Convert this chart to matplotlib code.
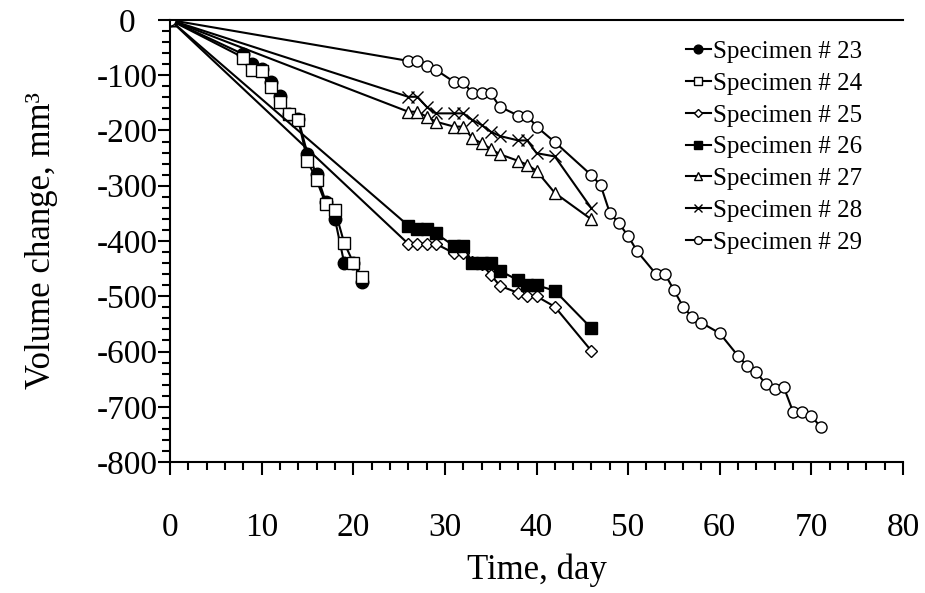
import matplotlib
matplotlib.use("Agg")
import numpy as np
import matplotlib.pyplot as plt
from matplotlib.ticker import MultipleLocator

plt.rcParams['font.family'] = ['Liberation Serif', 'DejaVu Serif']
plt.rcParams['axes.unicode_minus'] = False

# Specimen data (time in days, volume change in mm3)
days_23 = [0, 8, 9, 10, 11, 12, 13, 14, 15, 16, 17, 18, 19, 20, 21]
vol_23 = [0, -62, -80, -89, -113, -137, -170, -180, -242, -279, -329, -360, -439, -439, -474]

days_24 = [0, 8, 9, 10, 11, 12, 13, 14, 15, 16, 17, 18, 19, 20, 21]
vol_24 = [0, -68, -91, -93, -122, -148, -170, -181, -255, -290, -333, -344, -403, -439, -466]

days_25 = [0, 26, 27, 28, 29, 31, 32, 33, 34, 35, 36, 38, 39, 40, 42, 46]
vol_25 = [0, -405, -405, -405, -405, -422, -422, -438, -441, -461, -481, -494, -500, -500, -519, -599]

days_26 = [0, 26, 27, 28, 29, 31, 32, 33, 34, 35, 36, 38, 39, 40, 42, 46]
vol_26 = [0, -372, -378, -378, -386, -409, -409, -439, -439, -439, -454, -471, -480, -480, -490, -558]

days_27 = [0, 26, 27, 28, 29, 31, 32, 33, 34, 35, 36, 38, 39, 40, 42, 46]
vol_27 = [0, -166, -166, -175, -184, -193, -193, -214, -223, -233, -243, -255, -262, -273, -313, -361]

days_28 = [0, 26, 27, 28, 29, 31, 32, 33, 34, 35, 36, 38, 39, 40, 42, 46]
vol_28 = [0, -139, -139, -157, -169, -169, -169, -181, -190, -202, -210, -218, -218, -241, -247, -341]

days_29 = [0, 26, 27, 28, 29, 31, 32, 33, 34, 35, 36, 38, 39, 40, 42, 46, 47, 48, 49, 50,
           51, 53, 54, 55, 56, 57, 58, 60, 62, 63, 64, 65, 66, 67, 68, 69, 70, 71]
vol_29 = [0, -74, -74, -83, -90, -112, -112, -133, -133, -133, -157, -173, -173, -193, -221, -281,
          -299, -349, -368, -391, -419, -459, -459, -489, -519, -538, -548, -567, -608, -626, -638,
          -658, -668, -665, -709, -709, -716, -737]

series = [
    ("Specimen # 23", days_23, vol_23, 'o', 'black', 9),
    ("Specimen # 24", days_24, vol_24, 's', 'white', 8),
    ("Specimen # 25", days_25, vol_25, 'D', 'white', 6),
    ("Specimen # 26", days_26, vol_26, 's', 'black', 9),
    ("Specimen # 27", days_27, vol_27, '^', 'white', 8),
    ("Specimen # 28", days_28, vol_28, 'x', 'black', 8),
    ("Specimen # 29", days_29, vol_29, 'o', 'white', 8),
]

fig = plt.figure(figsize=(9.25, 5.93), dpi=100)
ax = fig.add_axes([0.1838, 0.2209, 0.7924, 0.7454])

for name, d, v, mk, fc, ms in series:
    ax.plot(d, v, color='black', lw=1.5, marker=mk, markersize=ms,
            markerfacecolor=fc, markeredgecolor='black', markeredgewidth=1.0,
            label=name)

ax.set_xlim(0, 80)
ax.set_ylim(-800, 0)
ax.xaxis.set_major_locator(MultipleLocator(10))
ax.xaxis.set_minor_locator(MultipleLocator(2))
ax.yaxis.set_major_locator(MultipleLocator(100))
ax.yaxis.set_minor_locator(MultipleLocator(20))

ax.spines['right'].set_visible(False)
for s in ['left', 'bottom', 'top']:
    ax.spines[s].set_linewidth(1.5)

ax.tick_params(axis='both', which='major', direction='out', length=9, width=1.5,
               labelsize=24, top=False, right=False)
ax.tick_params(axis='both', which='minor', direction='out', length=6, width=1.5,
               top=False, right=False)
ax.tick_params(axis='x', which='major', pad=27)
ax.tick_params(axis='y', which='major', pad=22)
for lbl in ax.get_yticklabels():
    lbl.set_horizontalalignment('center')

ax.set_xlabel('Time, day', fontsize=25, labelpad=8)
ax.set_ylabel('Volume change, mm³', fontsize=25, labelpad=28)

ax.legend(loc='upper right', bbox_to_anchor=(0.958, 0.976), frameon=False, fontsize=18,
          handlelength=1.0, handletextpad=0.1, labelspacing=0.37, markerscale=0.7,
          borderaxespad=0)

fig.savefig('out.png', dpi=100)
